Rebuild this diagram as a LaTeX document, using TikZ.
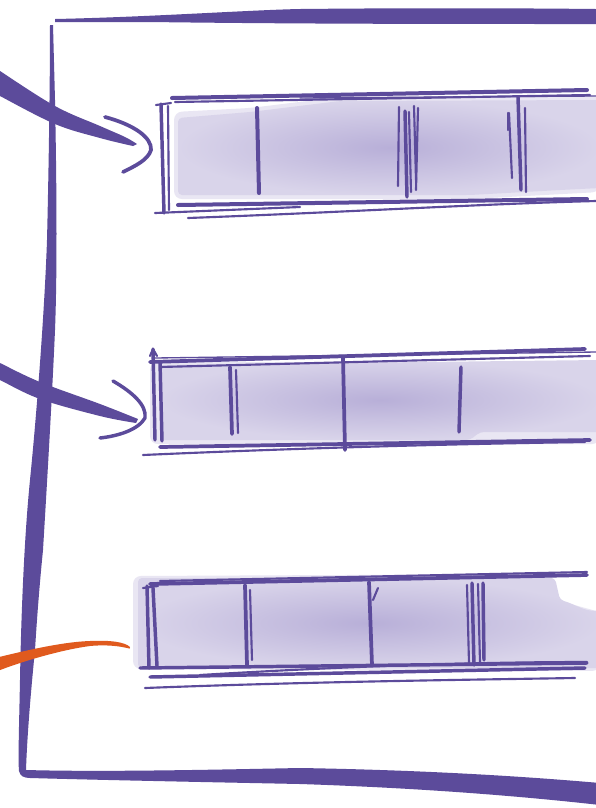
\documentclass[tikz,border=0pt]{standalone}
\definecolor{pen}{HTML}{5C4B9B}
\definecolor{washin}{HTML}{B8AFD8}
\definecolor{washout}{HTML}{D9D4EA}
\definecolor{halo}{HTML}{E9E6F3}
\definecolor{orangepen}{HTML}{E05A1E}
\begin{document}
\begin{tikzpicture}[x=0.75pt,y=-0.75pt,
  ink/.style={draw=pen,line cap=round,line join=round,line width=2.6pt},
  inkthin/.style={draw=pen,line cap=round,line join=round,line width=1.6pt},
  inkhair/.style={draw=pen,line cap=round,line join=round,line width=1pt},
  brush/.style={fill=pen,draw=none},
  wash/.style={inner color=washin,outer color=washout},
  halofill/.style={fill=halo,draw=none,rounded corners=6pt}]
\useasboundingbox (0,0) rectangle (596,808);
\clip (0,0) rectangle (596,808);
\fill[white] (0,0) rectangle (596,808);

% ---------- washes ----------
\fill[halofill] (174,112) -- (250,108) -- (340,97) -- (600,96) -- (600,192)
  -- (470,199) -- (174,199) -- cycle;
\shade[wash,rounded corners=3pt] (178,118) -- (250,112) -- (340,101) -- (600,100)
  -- (600,188) -- (560,190) -- (470,195) -- (178,195) -- cycle;
\fill[halofill] (150,362) rectangle (600,444);
\shade[wash,rounded corners=3pt] (160,365) -- (600,360) -- (600,432) -- (480,432)
  -- (470,440) -- (160,440) -- cycle;
\fill[halofill] (133,576) -- (553,574) -- (556,600) -- (600,612) -- (600,671) -- (133,669) -- cycle;
\shade[wash,rounded corners=3pt] (138,578) -- (555,578) -- (560,600) .. controls (575,604) and (585,612) .. (600,610)
  -- (600,668) -- (138,668) -- cycle;

% ---------- frame ----------
\fill[brush] (55,19) .. controls (150,17) and (250,10) .. (300,9)
  .. controls (400,8) and (500,8) .. (596,9) -- (596,24)
  .. controls (450,24) and (300,24) .. (150,22) -- (55,22) -- cycle;
\fill[brush] (50,25) .. controls (50,100) and (48,200) .. (47,240)
  .. controls (45,300) and (38,400) .. (30,480)
  .. controls (24,540) and (21,620) .. (20,680)
  .. controls (19,730) and (18,760) .. (19,771)
  .. controls (20,776) and (24,778) .. (30,778)
  .. controls (100,780) and (200,782) .. (300,784)
  .. controls (420,788) and (520,796) .. (600,805)
  -- (600,783)
  .. controls (520,776) and (420,770) .. (300,768)
  .. controls (200,770) and (100,772) .. (26,770)
  .. controls (27,740) and (30,700) .. (35,650)
  .. controls (38,600) and (42,560) .. (43,550)
  .. controls (46,500) and (52,400) .. (55,330)
  .. controls (57,280) and (57,200) .. (55,100)
  -- (53,25) -- cycle;

% ---------- arrows ----------
\fill[brush] plot[smooth,tension=0.6] coordinates {(-8,65) (0,71) (55,106) (100,126) (125,137) (137,144)}
  -- plot[smooth,tension=0.6] coordinates {(133,146) (100,138) (55,124) (0,96) (-8,91)} -- cycle;
\draw[ink,line width=2.8pt] (105,117) .. controls (135,125) and (152,138) .. (151,150)
  .. controls (148,160) and (135,166) .. (123,172);

\fill[brush] plot[smooth,tension=0.6] coordinates {(-8,359) (0,363) (40,382) (100,404) (138,419)}
  -- plot[smooth,tension=0.6] coordinates {(136,423) (100,416) (40,399) (0,380) (-8,376)} -- cycle;
\draw[ink,line width=2.6pt] (113,381) .. controls (132,392) and (147,405) .. (145,418)
  .. controls (138,430) and (118,436) .. (100,438);

\fill[orangepen] (-5,658) .. controls (20,652) and (60,642) .. (90,641)
  .. controls (110,640) and (125,642) .. (130,647)
  .. controls (131,649) and (129,649) .. (127,648)
  .. controls (115,645) and (100,645) .. (90,646)
  .. controls (60,650) and (20,662) .. (-5,672) -- cycle;

% ---------- bar 1 ----------
\draw[ink,line width=3pt] (172,98) -- (587,90);
\draw[inkthin] (175,102) -- (590,95);
\draw[inkhair] (300,98) -- (596,96);
\draw[ink] (161,104) -- (164,213);
\draw[inkthin] (168,106) -- (169,210);
\draw[inkthin] (156,105) -- (171,103);
\draw[ink,line width=3pt] (178,205) -- (587,199);
\draw[inkthin] (155,213) -- (300,207);
\draw[inkthin] (188,218) .. controls (350,212) and (480,204) .. (596,201);
\draw[ink,line width=3pt] (257,108) -- (259,193);
\draw[inkthin] (399,107) -- (398,186);
\draw[ink] (405,111) -- (407,197);
\draw[inkthin] (409,112) -- (411,192);
\draw[inkthin] (414,106) -- (416,180);
\draw[inkthin] (418,108) -- (416,190);
\draw[inkthin] (509,113) -- (512,178);
\draw[ink] (518,97) -- (521,190);
\draw[inkthin] (525,108) -- (526,192);
\draw[inkthin] (508,113) -- (508,130);

% ---------- bar 2 ----------
\draw[ink,line width=2.8pt] (150,362) -- (585,349);
\draw[inkthin] (160,367) -- (590,356);
\draw[inkhair] (155,358) -- (596,352);
\draw[ink] (153,349) -- (155,440);
\draw[ink] (160,362) -- (162,441);
\draw[inkthin] (150,356) -- (153,349) -- (157,356);
\draw[ink,line width=2.8pt] (160,447) -- (590,440);
\draw[inkthin] (143,455) .. controls (300,448) and (450,444) .. (585,442);
\draw[ink,line width=2.8pt] (230,367) -- (232,434);
\draw[inkthin] (236,370) -- (238,433);
\draw[ink,line width=2.8pt] (343,357) -- (345,450);
\draw[ink] (461,367) -- (459,432);

% ---------- bar 3 ----------
\draw[ink,line width=2.8pt] (150,584) -- (587,575);
\draw[inkthin] (160,581) -- (587,572);
\draw[ink] (147,586) -- (149,668);
\draw[ink] (153,588) -- (157,666);
\draw[inkthin] (143,588) -- (158,586);
\draw[ink] (140,668) -- (587,663);
\draw[ink] (150,677) -- (585,668);
\draw[inkthin] (145,688) .. controls (300,682) and (450,680) .. (575,678);
\draw[inkthin] (200,675) .. controls (350,666) and (480,662) .. (587,662);
\draw[ink,line width=2.8pt] (245,585) -- (247,665);
\draw[inkthin] (250,590) -- (252,660);
\draw[ink,line width=2.8pt] (369,582) -- (372,665);
\draw[inkthin] (373,600) -- (378,588);
\draw[inkthin] (467,585) -- (469,663);
\draw[ink] (472,583) -- (474,665);
\draw[inkthin] (478,584) -- (480,662);
\draw[ink] (483,583) -- (484,660);
\end{tikzpicture}
\end{document}
